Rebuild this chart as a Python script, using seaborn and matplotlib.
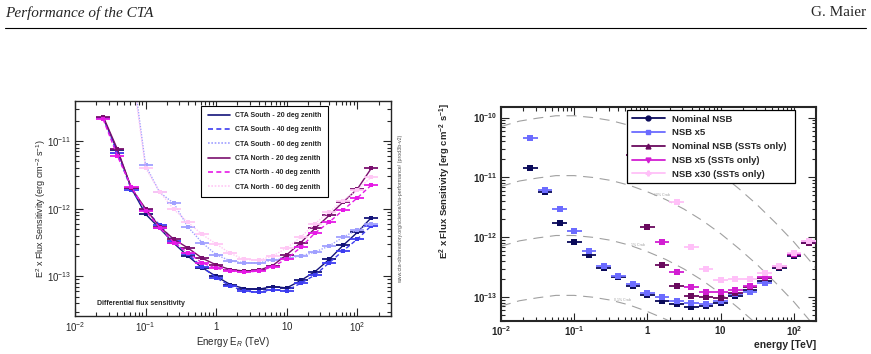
import numpy as np
import seaborn as sns
import matplotlib
matplotlib.use("Agg")
import matplotlib.pyplot as plt
from matplotlib.lines import Line2D
from matplotlib.ticker import LogLocator, FixedLocator, FuncFormatter, NullFormatter

# energy bin centres, log10(E/TeV), 5 bins per decade
log_e = [-1.6, -1.4, -1.2, -1.0, -0.8, -0.6, -0.4, -0.2, 0.0, 0.2,
         0.4, 0.6, 0.8, 1.0, 1.2, 1.4, 1.6, 1.8, 2.0, 2.2]
nan = np.nan

# left panel: log10 of E^2 x flux sensitivity (erg cm-2 s-1)
south_20 = [-10.66, -11.14, -11.70, -12.08, -12.29, -12.51, -12.70, -12.87, -13.00, -13.12,
            -13.18, -13.19, -13.15, -13.17, -13.06, -12.93, -12.75, -12.54, -12.35, -12.13]
south_40 = [-10.66, -11.18, -11.72, -12.02, -12.24, -12.48, -12.67, -12.86, -13.02, -13.14,
            -13.22, -13.23, -13.20, -13.21, -13.10, -12.98, -12.80, -12.62, -12.45, -12.25]
south_60 = [nan, nan, -9.80, -11.36, -11.76, -11.92, -12.27, -12.50, -12.68, -12.77,
            -12.80, -12.80, -12.76, -12.73, -12.70, -12.64, -12.55, -12.42, -12.31, -12.22]
north_20 = [-10.64, -11.12, -11.70, -12.00, -12.27, -12.45, -12.58, -12.73, -12.83, -12.90,
            -12.92, -12.91, -12.84, -12.68, -12.50, -12.29, -12.10, -11.90, -11.71, -11.40]
north_40 = [-10.68, -11.22, -11.68, -12.03, -12.28, -12.50, -12.65, -12.80, -12.88, -12.92,
            -12.94, -12.92, -12.86, -12.74, -12.57, -12.36, -12.20, -12.02, -11.84, -11.65]
north_60 = [nan, nan, -9.90, -11.40, -11.75, -12.01, -12.20, -12.38, -12.52, -12.66,
            -12.75, -12.76, -12.70, -12.58, -12.42, -12.22, -12.05, -11.88, -11.72, -11.53]

left_names = ["CTA South - 20 deg zenith", "CTA South - 40 deg zenith", "CTA South - 60 deg zenith",
              "CTA North - 20 deg zenith", "CTA North - 40 deg zenith", "CTA North - 60 deg zenith"]
left_series = [south_20, south_40, south_60, north_20, north_40, north_60]
left_colors = ["#14147a", "#3c3cf0", "#a0a0ff", "#7a0f6e", "#e619e6", "#ffc8f5"]
left_styles = ["-", (0, (3, 2)), (0, (1, 1)), "-", (0, (3, 2)), (0, (1, 1))]

# right panel: log10 of E^2 x flux sensitivity (erg cm-2 s-1)
nominal = [-10.84, -11.25, -11.76, -12.08, -12.29, -12.51, -12.67, -12.82, -12.96, -13.06,
           -13.12, -13.16, -13.14, -13.09, -12.98, -12.88, -12.73, -12.51, -12.31, -12.09]
nsb_x5 = [-10.34, -11.21, -11.53, -11.89, -12.23, -12.48, -12.64, -12.78, -12.93, -12.99,
          -13.06, -13.09, -13.11, -13.06, -12.94, -12.91, -12.76, -12.49, -12.28, -12.08]
nominal_sst = [nan, nan, nan, nan, nan, nan, nan, -10.63, -11.83, -12.46,
               -12.81, -12.98, -12.99, -13.01, -12.93, -12.83, -12.68, -12.49, -12.29, -12.10]
nsb_x5_sst = [nan, nan, nan, nan, nan, nan, nan, nan, nan, -12.08,
              -12.58, -12.83, -12.91, -12.91, -12.88, -12.81, -12.66, -12.48, -12.28, -12.07]
nsb_x30_sst = [nan, nan, nan, nan, nan, nan, nan, nan, nan, nan,
               -11.41, -12.16, -12.53, -12.72, -12.69, -12.69, -12.59, -12.48, -12.27, -12.06]

right_names = ["Nominal NSB", "NSB x5", "Nominal NSB (SSTs only)", "NSB x5 (SSTs only)", "NSB x30 (SSTs only)"]
right_series = [nominal, nsb_x5, nominal_sst, nsb_x5_sst, nsb_x30_sst]
right_colors = ["#0a0a5a", "#6b6bff", "#6a0a5e", "#d21ed2", "#ffc0f8"]
right_markers = ["o", "s", "^", "v", "P"]

# Crab reference curve (100 %), log10 of E^2 flux
crab_log_e = [-2.0, -1.75, -1.5, -1.25, -1.0, -0.75, -0.5, -0.25, 0.0, 0.25,
              0.5, 0.75, 1.0, 1.25, 1.5, 1.75, 2.0, 2.25, 2.5]
crab_100 = [-10.15, -10.06, -10.01, -9.97, -9.97, -10.00, -10.05, -10.13, -10.24, -10.37,
            -10.53, -10.72, -10.94, -11.19, -11.46, -11.76, -12.08, -12.44, -12.82]
crab_fractions = [1.0, 0.1, 0.01, 0.001]
crab_labels = ["100% Crab", "10% Crab", "1% Crab", "0.1% Crab"]

sns.set_style("ticks")
plt.rcParams["font.family"] = ["Liberation Sans", "DejaVu Sans"]
plt.rcParams["mathtext.fontset"] = "custom"
plt.rcParams["mathtext.rm"] = "Liberation Sans"
plt.rcParams["mathtext.it"] = "Liberation Sans:italic"
plt.rcParams["mathtext.bf"] = "Liberation Sans:bold"

fig = plt.figure(figsize=(8.71, 3.54), dpi=100)

# page header
fig.text(5 / 871, 1 - 13 / 354, "Performance of the CTA", family="Liberation Serif",
         style="italic", fontsize=11, va="center", ha="left")
fig.text(866 / 871, 1 - 13 / 354, "G. Maier", family="Liberation Serif",
         fontsize=11, va="center", ha="right")
fig.add_artist(Line2D([5 / 871, 866 / 871], [1 - 28 / 354, 1 - 28 / 354],
                      color="black", lw=0.8, transform=fig.transFigure))


def tick_fmt(v, pos, bold=False):
    e = int(round(np.log10(v)))
    if e == 0:
        s = "1"
    elif e == 1:
        s = "10"
    else:
        s = "10^{%d}" % e
    if bold:
        return r"$\mathbf{%s}$" % s
    return r"$%s$" % s


def in_range(locator, lo, hi):
    # keep only the ticks that fall inside the axis range
    return FixedLocator([t for t in locator.tick_values(lo, hi) if lo * 0.999 <= t <= hi * 1.001])


def style_axes(ax, bold, pad, xlim, ylim):
    ax.set_xscale("log")
    ax.set_yscale("log")
    ax.set_xlim(*xlim)
    ax.set_ylim(*ylim)
    for a, lim in ((ax.xaxis, xlim), (ax.yaxis, ylim)):
        a.set_major_locator(in_range(LogLocator(base=10, numticks=20), *lim))
        a.set_minor_locator(in_range(LogLocator(base=10, subs=np.arange(2, 10), numticks=20), *lim))
        a.set_minor_formatter(NullFormatter())
        a.set_major_formatter(FuncFormatter(lambda v, p: tick_fmt(v, p, bold)))
    ax.tick_params(which="both", direction="in", top=True, right=True, labelsize=7, pad=pad)
    ax.tick_params(which="major", length=6, width=0.8)
    ax.tick_params(which="minor", length=3, width=0.8)


energy = 10 ** np.array(log_e)
xerr = [energy - energy * 10 ** -0.1, energy * 10 ** 0.1 - energy]

# ---------------- left panel
ax1 = fig.add_axes([75 / 871, 1 - 316 / 354, 316 / 871, 215 / 354])
for sp in ax1.spines.values():
    sp.set_linewidth(1.0)
handles = []
for name, vals, c, ls in zip(left_names, left_series, left_colors, left_styles):
    y = 10 ** np.array(vals)
    ax1.errorbar(energy, y, xerr=xerr, yerr=[y * 0.05, y * 0.05], fmt="none", ecolor=c,
                 elinewidth=1.3, capsize=0)
    sns.lineplot(x=energy, y=y, ax=ax1, color=c, linestyle=ls, lw=1.0,
                 marker="s", markersize=2.5, markeredgewidth=0)
    handles.append(Line2D([], [], color=c, linestyle=ls, lw=1.2))
style_axes(ax1, False, 3, (0.01, 300), (2.6e-14, 3.9e-11))
ax1.set_xlabel(r"Energy E$_{R}$ (TeV)", fontsize=7)
ax1.xaxis.set_label_coords(0.5, -0.088)
ax1.set_ylabel(r"E$^{2}$ x Flux Sensitivity (erg cm$^{-2}$ s$^{-1}$)", fontsize=6.5)
ax1.yaxis.set_label_coords(-0.085, 0.5)
leg = ax1.legend(handles, left_names, loc="upper left", bbox_to_anchor=(0.40, 0.977, 0.40, 0.0),
                 mode="expand", fancybox=False, framealpha=1, edgecolor="black",
                 prop={"size": 5, "weight": "bold"}, handlelength=3.2, labelspacing=1.05,
                 borderpad=0.9, borderaxespad=0)
leg.get_frame().set_linewidth(0.8)
ax1.text(0.07, 0.06, "Differential flux sensitivity", transform=ax1.transAxes,
         fontsize=5, fontweight="bold", ha="left", va="center")
ax1.text(1.03, 0.5, "www.cta-observatory.org/science/cta-performance/ (prod3b-v2)",
         transform=ax1.transAxes, rotation=90, fontsize=3.8, color="#555555",
         ha="center", va="center")

# ---------------- right panel
ax2 = fig.add_axes([501 / 871, 1 - 321 / 354, 315 / 871, 214 / 354])
for sp in ax2.spines.values():
    sp.set_linewidth(1.5)

crab_e = 10 ** np.array(crab_log_e)
for frac, lab in zip(crab_fractions, crab_labels):
    ax2.plot(crab_e, 10 ** np.array(crab_100) * frac, color="#a0a0a0", lw=0.8,
             linestyle=(0, (9, 6)), zorder=1)
label_pos = {"10% Crab": 1.6, "1% Crab": 0.75, "0.1% Crab": 0.45}
for frac, lab in zip(crab_fractions, crab_labels):
    if lab in label_pos:
        ex = label_pos[lab]
        yv = 10 ** np.interp(np.log10(ex), crab_log_e, crab_100) * frac
        ax2.text(ex, yv * 1.05, lab, fontsize=2.5, color="#a0a0a0", ha="center", va="bottom")

handles2 = []
for name, vals, c, m in zip(right_names, right_series, right_colors, right_markers):
    y = 10 ** np.array(vals)
    ax2.errorbar(energy, y, xerr=xerr, yerr=[y * 0.04, y * 0.04], fmt="none",
                 ecolor=c, elinewidth=1.3, capsize=0, zorder=3)
    sns.scatterplot(x=energy, y=y, ax=ax2, color=c, marker="s", s=14, linewidth=0, zorder=4)
    handles2.append(Line2D([], [], color=c, lw=1.3, marker=m, markersize=3.5))
style_axes(ax2, True, 2.5, (0.01, 200), (4e-14, 1.5e-10))
ax2.set_xlabel("energy [TeV]", fontsize=7.5, fontweight="bold", loc="right")
ax2.xaxis.set_label_coords(1.0, -0.09)
ax2.set_ylabel(r"$\mathbf{E^{2}}$ x Flux Sensitivity [erg cm$\mathbf{^{-2}}$ s$\mathbf{^{-1}}$]",
               fontsize=6.8, fontweight="bold", loc="top")
ax2.yaxis.set_label_coords(-0.152, 1.02)
leg2 = ax2.legend(handles2, right_names, loc="upper left", bbox_to_anchor=(0.40, 0.986, 0.533, 0.0),
                  mode="expand", fancybox=False, framealpha=1, edgecolor="black",
                  prop={"size": 6.8, "weight": "bold"}, handlelength=3.5, labelspacing=0.5,
                  borderpad=0.5, borderaxespad=0)
leg2.get_frame().set_linewidth(0.9)

fig.savefig("out.png", dpi=100)
